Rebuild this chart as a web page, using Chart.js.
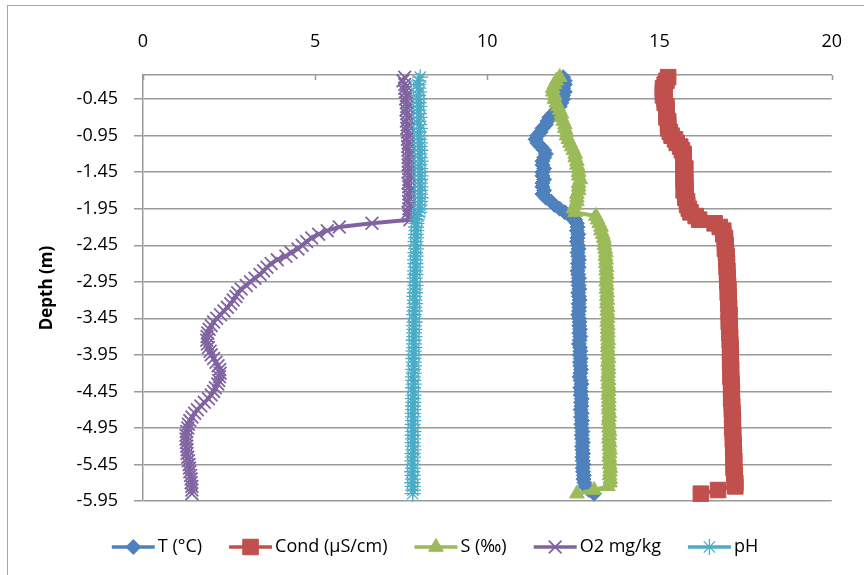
<!DOCTYPE html>
<html>
<head>
<meta charset="utf-8">
<script src="https://cdn.jsdelivr.net/npm/chart.js@4.4.0/dist/chart.umd.min.js"></script>
<style>
  html, body { margin: 0; padding: 0; background: #fff; overflow: hidden; }
  #frame { position: absolute; left: 7px; top: 5px; width: 900px; height: 620px; border: 1px solid #a6a6a6; }
  canvas { position: absolute; left: 0; top: 0; }
</style>
</head>
<body>
<div id="frame"></div>
<canvas id="graph" width="864" height="575"></canvas>
<script>
// sampling depths (m), shared by all profiles
const depth = [
  -0.15, -0.20, -0.25, -0.30, -0.35, -0.40, -0.45, -0.50, -0.55, -0.60,
  -0.65, -0.70, -0.75, -0.80, -0.85, -0.90, -0.95, -1.00, -1.05, -1.10,
  -1.15, -1.20, -1.25, -1.30, -1.35, -1.40, -1.45, -1.50, -1.55, -1.60,
  -1.65, -1.70, -1.75, -1.80, -1.85, -1.90, -1.95, -2.00, -2.05, -2.10,
  -2.15, -2.20, -2.25, -2.30, -2.35, -2.40, -2.45, -2.50, -2.55, -2.60,
  -2.65, -2.70, -2.75, -2.80, -2.85, -2.90, -2.95, -3.00, -3.05, -3.10,
  -3.15, -3.20, -3.25, -3.30, -3.35, -3.40, -3.45, -3.50, -3.55, -3.60,
  -3.65, -3.70, -3.75, -3.80, -3.85, -3.90, -3.95, -4.00, -4.05, -4.10,
  -4.15, -4.20, -4.25, -4.30, -4.35, -4.40, -4.45, -4.50, -4.55, -4.60,
  -4.65, -4.70, -4.75, -4.80, -4.85, -4.90, -4.95, -5.00, -5.05, -5.10,
  -5.15, -5.20, -5.25, -5.30, -5.35, -5.40, -5.45, -5.50, -5.55, -5.60,
  -5.65, -5.70, -5.75, -5.80, -5.85
];

const temp = [
  12.20, 12.25, 12.25, 12.20, 12.25, 12.20, 12.20, 12.15, 12.10, 12.00,
  11.90, 11.80, 11.75, 11.70, 11.60, 11.55, 11.45, 11.40, 11.45, 11.55,
  11.65, 11.70, 11.65, 11.60, 11.60, 11.65, 11.60, 11.60, 11.65, 11.60,
  11.60, 11.65, 11.60, 11.70, 11.85, 11.95, 12.10, 12.25, 12.40, 12.55,
  12.60, 12.62, 12.60, 12.64, 12.62, 12.60, 12.63, 12.65, 12.62, 12.64,
  12.66, 12.63, 12.65, 12.62, 12.64, 12.66, 12.64, 12.65, 12.67, 12.64,
  12.66, 12.68, 12.65, 12.67, 12.66, 12.64, 12.66, 12.68, 12.67, 12.69,
  12.67, 12.70, 12.68, 12.66, 12.69, 12.70, 12.68, 12.71, 12.69, 12.70,
  12.72, 12.70, 12.68, 12.71, 12.73, 12.70, 12.72, 12.71, 12.74, 12.72,
  12.73, 12.71, 12.74, 12.72, 12.75, 12.73, 12.74, 12.76, 12.74, 12.75,
  12.77, 12.75, 12.76, 12.78, 12.76, 12.77, 12.79, 12.77, 12.78, 12.80,
  12.79, 12.82, 12.85, 12.95, 13.10
];

const cond = [
  15.25, 15.20, 15.15, 15.10, 15.10, 15.10, 15.15, 15.15, 15.20, 15.20,
  15.20, 15.20, 15.25, 15.25, 15.25, 15.30, 15.35, 15.45, 15.50, 15.60,
  15.65, 15.70, 15.70, 15.70, 15.70, 15.75, 15.70, 15.70, 15.70, 15.75,
  15.75, 15.70, 15.75, 15.75, 15.80, 15.80, 15.85, 15.90, 16.05, 16.15,
  16.60, 16.75, 16.85, 16.85, 16.90, 16.90, 16.92, 16.90, 16.93, 16.95,
  16.94, 16.96, 16.95, 16.97, 16.96, 16.98, 16.97, 16.99, 17.00, 16.98,
  17.00, 17.01, 17.00, 17.02, 17.01, 17.03, 17.02, 17.01, 17.03, 17.04,
  17.03, 17.05, 17.04, 17.05, 17.06, 17.05, 17.07, 17.06, 17.05, 17.07,
  17.08, 17.07, 17.06, 17.08, 17.09, 17.08, 17.10, 17.09, 17.08, 17.10,
  17.11, 17.10, 17.12, 17.11, 17.13, 17.12, 17.11, 17.13, 17.14, 17.13,
  17.14, 17.15, 17.14, 17.16, 17.15, 17.17, 17.16, 17.15, 17.17, 17.18,
  17.18, 17.20, 17.20, 16.70, 16.20
];

const salinity = [
  12.10, 12.00, 11.95, 11.90, 11.90, 11.95, 11.95, 12.00, 12.05, 12.10,
  12.15, 12.15, 12.20, 12.25, 12.25, 12.30, 12.30, 12.35, 12.40, 12.45,
  12.50, 12.55, 12.55, 12.60, 12.60, 12.65, 12.65, 12.65, 12.70, 12.65,
  12.65, 12.65, 12.60, 12.60, 12.60, 12.55, 12.50, 12.55, 13.15, 13.20,
  13.25, 13.30, 13.30, 13.35, 13.38, 13.40, 13.40, 13.42, 13.44, 13.43,
  13.45, 13.44, 13.46, 13.45, 13.47, 13.46, 13.45, 13.47, 13.46, 13.48,
  13.47, 13.48, 13.47, 13.49, 13.48, 13.50, 13.49, 13.48, 13.50, 13.49,
  13.50, 13.49, 13.51, 13.50, 13.49, 13.51, 13.50, 13.52, 13.50, 13.51,
  13.52, 13.51, 13.50, 13.52, 13.51, 13.53, 13.52, 13.51, 13.53, 13.52,
  13.53, 13.52, 13.54, 13.53, 13.52, 13.54, 13.53, 13.55, 13.54, 13.53,
  13.55, 13.54, 13.56, 13.55, 13.54, 13.56, 13.55, 13.57, 13.56, 13.55,
  13.57, 13.56, 13.50, 13.10, 12.60
];

const oxygen = [
  7.60, 7.55, 7.60, 7.60, 7.62, 7.65, 7.63, 7.65, 7.66, 7.64,
  7.66, 7.68, 7.65, 7.67, 7.66, 7.68, 7.70, 7.68, 7.70, 7.69,
  7.70, 7.72, 7.70, 7.71, 7.70, 7.72, 7.71, 7.73, 7.72, 7.70,
  7.72, 7.74, 7.72, 7.73, 7.71, 7.74, 7.72, 7.70, 7.72, 7.75,
  6.65, 5.70, 5.35, 5.10, 4.90, 4.75, 4.62, 4.50, 4.30, 4.15,
  3.90, 3.72, 3.60, 3.50, 3.40, 3.25, 3.12, 3.00, 2.85, 2.75,
  2.70, 2.62, 2.55, 2.45, 2.35, 2.25, 2.14, 2.05, 1.98, 1.92,
  1.88, 1.86, 1.85, 1.87, 1.90, 1.95, 1.98, 2.05, 2.12, 2.18,
  2.23, 2.24, 2.22, 2.20, 2.17, 2.10, 2.05, 1.98, 1.90, 1.78,
  1.68, 1.58, 1.50, 1.42, 1.36, 1.32, 1.30, 1.27, 1.25, 1.25,
  1.26, 1.27, 1.28, 1.28, 1.30, 1.32, 1.34, 1.35, 1.36, 1.38,
  1.40, 1.40, 1.42, 1.42, 1.42
];

const ph = [
  8.05, 8.00, 7.98, 8.00, 8.02, 7.99, 8.01, 8.00, 8.02, 8.00,
  8.01, 8.03, 8.00, 8.02, 8.04, 8.01, 8.03, 8.02, 8.04, 8.03,
  8.05, 8.03, 8.04, 8.06, 8.03, 8.05, 8.04, 8.06, 8.05, 8.04,
  8.06, 8.05, 8.04, 8.06, 8.05, 8.03, 8.04, 8.02, 7.98, 7.95,
  7.94, 7.93, 7.94, 7.92, 7.93, 7.91, 7.92, 7.93, 7.91, 7.92,
  7.90, 7.91, 7.92, 7.90, 7.91, 7.89, 7.90, 7.91, 7.89, 7.90,
  7.88, 7.89, 7.90, 7.88, 7.89, 7.87, 7.88, 7.89, 7.87, 7.88,
  7.87, 7.88, 7.86, 7.87, 7.88, 7.86, 7.87, 7.85, 7.86, 7.87,
  7.85, 7.86, 7.84, 7.85, 7.86, 7.84, 7.85, 7.86, 7.84, 7.85,
  7.84, 7.85, 7.83, 7.84, 7.85, 7.83, 7.84, 7.85, 7.83, 7.84,
  7.83, 7.84, 7.85, 7.83, 7.84, 7.82, 7.83, 7.84, 7.82, 7.83,
  7.84, 7.82, 7.83, 7.84, 7.83
];

const depthTicks = [-5.95, -5.45, -4.95, -4.45, -3.95, -3.45, -2.95, -2.45, -1.95, -1.45, -0.95, -0.45];
const seriesNames = ['T (°C)', 'Cond (µS/cm)', 'S (‰)', 'O2 mg/kg', 'pH'];

const FONT = '"Open Sans", "Noto Sans", sans-serif';
const GRID = '#9a9a9a';

function profile(label, values, color, style, radius, markerLine, order) {
    return {
        label: label,
        data: values.map((v, i) => ({ x: v, y: depth[i] })),
        showLine: true,
        borderColor: color,
        backgroundColor: color,
        borderWidth: 4,
        pointStyle: style,
        pointRadius: radius,
        pointBorderWidth: markerLine,
        pointBorderColor: color,
        pointBackgroundColor: color,
        order: order,
        clip: false
    };
}

// small tick marks hanging down from the top axis
const innerTicks = {
    id: 'innerTicks',
    beforeDatasetsDraw(chart) {
        const ctx = chart.ctx;
        const sx = chart.scales.x;
        const top = chart.chartArea.top;
        ctx.save();
        ctx.strokeStyle = GRID;
        ctx.lineWidth = 1.5;
        sx.ticks.forEach(t => {
            const px = Math.round(sx.getPixelForValue(t.value)) + 0.5;
            ctx.beginPath();
            ctx.moveTo(px, top);
            ctx.lineTo(px, top + 5);
            ctx.stroke();
        });
        ctx.restore();
    }
};

// legend under the plot: line with marker, then the label
const lineLegend = {
    id: 'lineLegend',
    afterDraw(chart) {
        const ctx = chart.ctx;
        const lineLen = 43, gap = 3, spacing = 27, y = 547;
        ctx.save();
        ctx.font = '18px ' + FONT;
        const items = chart.data.datasets.map(ds => ({ ds: ds, w: ctx.measureText(ds.label).width }));
        let total = spacing * (items.length - 1);
        items.forEach(it => { total += lineLen + gap + it.w; });
        let x = 435 - total / 2;
        items.forEach(it => {
            const ds = it.ds;
            ctx.strokeStyle = ds.borderColor;
            ctx.lineWidth = 3.5;
            ctx.beginPath();
            ctx.moveTo(x, y);
            ctx.lineTo(x + lineLen, y);
            ctx.stroke();
            ctx.fillStyle = ds.pointBackgroundColor;
            ctx.strokeStyle = ds.pointBorderColor;
            ctx.lineWidth = ds.pointBorderWidth;
            Chart.helpers.drawPoint(ctx, {
                pointStyle: ds.pointStyle,
                radius: ds.pointRadius,
                borderWidth: ds.pointBorderWidth,
                rotation: 0
            }, x + lineLen / 2, y);
            ctx.fillStyle = '#000';
            ctx.textAlign = 'left';
            ctx.textBaseline = 'middle';
            ctx.fillText(ds.label, x + lineLen + gap, y);
            x += lineLen + gap + it.w + spacing;
        });
        ctx.restore();
    }
};

const datasets = [
    profile(seriesNames[0], temp, '#4F81BD', 'rectRot', 7.5, 1, 5),
    profile(seriesNames[1], cond, '#C0504D', 'rect', 11, 1, 4),
    profile(seriesNames[2], salinity, '#9BBB59', 'triangle', 8.5, 1, 3),
    profile(seriesNames[3], oxygen, '#8064A2', 'crossRot', 9, 1.8, 2),
    profile(seriesNames[4], ph, '#4BACC6', 'star', 8, 1.3, 1)
];

new Chart(document.getElementById('graph'), {
    type: 'scatter',
    data: { datasets: datasets },
    plugins: [innerTicks, lineLegend],
    options: {
        responsive: false,
        animation: false,
        devicePixelRatio: 1,
        layout: { padding: { left: 0, top: 0, right: 31, bottom: 74 } },
        plugins: {
            legend: { display: false },
            tooltip: { enabled: false }
        },
        scales: {
            x: {
                type: 'linear',
                position: 'top',
                min: 0,
                max: 20,
                ticks: { stepSize: 5, padding: 22, color: '#000', font: { family: FONT, size: 18 } },
                grid: { drawOnChartArea: false, drawTicks: false },
                border: { color: GRID, width: 1.5 },
                afterFit: s => { s.height = 75; }
            },
            y: {
                type: 'linear',
                min: -5.95,
                max: -0.12,
                afterBuildTicks: s => { s.ticks = depthTicks.map(v => ({ value: v })); },
                ticks: {
                    padding: 16,
                    color: '#000',
                    font: { family: FONT, size: 18 },
                    callback: v => v.toFixed(2)
                },
                grid: { color: GRID, lineWidth: 1.5, tickLength: 9 },
                border: { color: GRID, width: 1.5 },
                title: {
                    display: true,
                    text: 'Depth (m)',
                    color: '#000',
                    font: { family: FONT, size: 17, weight: 'bold' },
                    padding: { top: 37, bottom: 0 }
                },
                afterFit: s => { s.width = 143; }
            }
        }
    }
});
</script>
</body>
</html>
